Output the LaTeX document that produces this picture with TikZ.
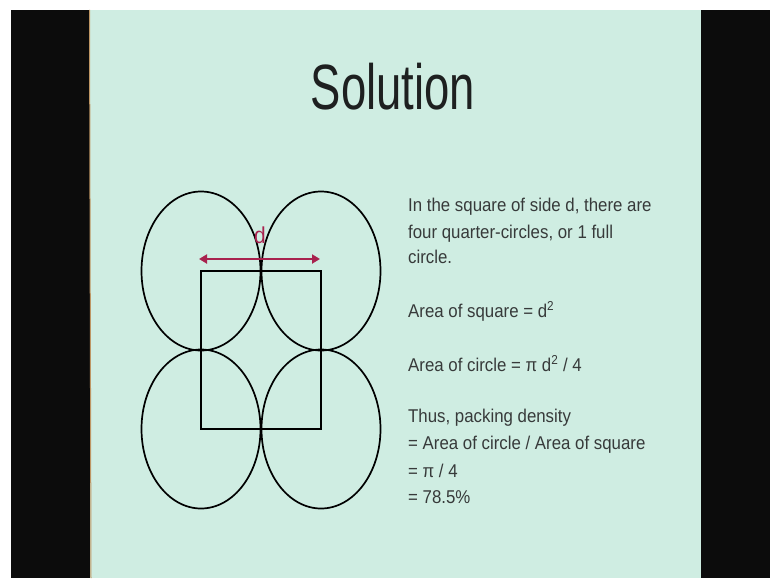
\documentclass[tikz,border=0pt]{standalone}
\usepackage{fontspec}
\setmainfont{Liberation Sans}
\newfontfamily\titlefont[FakeStretch=0.71]{Liberation Sans}
\newfontfamily\bodyfont[FakeStretch=0.91]{Liberation Sans}
\usetikzlibrary{shapes.geometric,arrows.meta}
\definecolor{slidebg}{RGB}{207,237,226}
\definecolor{band}{RGB}{12,12,12}
\definecolor{crim}{RGB}{168,34,78}
\definecolor{txt}{RGB}{55,58,58}
\tikzset{
  ball/.style={ellipse,draw=black,line width=1.7pt,minimum width=119pt,minimum height=159pt,inner sep=0pt},
  body/.style={anchor=base west,inner sep=0pt,text=txt,font=\bodyfont\fontsize{18.5}{22}\selectfont},
}
\begin{document}
\begin{tikzpicture}[x=1pt,y=-1pt]
\useasboundingbox (0,0) rectangle (770,578);
\fill[white] (0,0) rectangle (770,578);
\fill[band] (11,10) rectangle (90,578);
\fill[band] (701,10) rectangle (770,578);
\fill[slidebg] (90,10) rectangle (701,578);
\draw[color={rgb,255:red,190;green,150;blue,100},line width=1pt] (89.5,10) -- (91,578);
% title
\node[anchor=base,inner sep=0pt,text={rgb,255:red,30;green,32;blue,32},font=\titlefont\fontsize{64}{70}\selectfont] (title) at (393,109) {Solution};
% circles
\node[ball] (tl) at (201,271) {};
\node[ball] (tr) at (321,271) {};
\node[ball] (bl) at (201,429) {};
\node[ball] (br) at (321,429) {};
\draw[line width=1.7pt] (tl.center) rectangle (br.center);
% arrow
\coordinate (al) at (199,259);
\coordinate (ar) at (320,259);
\draw[crim,line width=2.4pt,{Triangle[length=8pt,width=9pt]}-{Triangle[length=8pt,width=9pt]}] (al) -- (ar);
\node[anchor=base,inner sep=0pt,text=crim,font=\bodyfont\fontsize{23}{26}\selectfont] (dlab) at (260,243) {d};
% text
\node[body] (l1) at (408,211) {In the square of side d, there are};
\node[body] (l2) at (408,238) {four quarter-circles, or 1 full};
\node[body] (l3) at (408,263) {circle.};
\node[body] (l4) at (408,317) {Area of square = d\textsuperscript{2}};
\node[body] (l5) at (408,371) {Area of circle = π d\textsuperscript{2} / 4};
\node[body] (l6) at (408,422) {Thus, packing density};
\node[body] (l7) at (408,449) {= Area of circle / Area of square};
\node[body] (l8) at (408,477) {= π / 4};
\node[body] (l9) at (408,503) {= 78.5\%};
\end{tikzpicture}
\end{document}
